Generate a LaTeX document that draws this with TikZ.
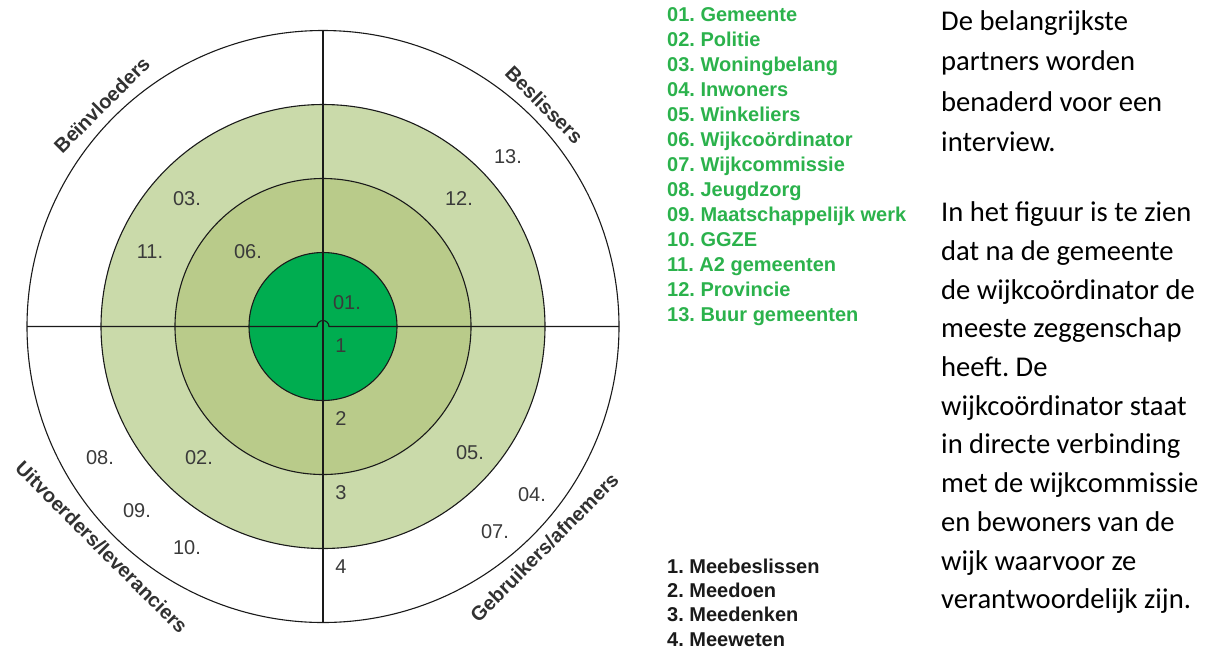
\documentclass[tikz,border=0pt]{standalone}
\usepackage{fontspec}
\setmainfont{Liberation Sans}
\newfontfamily\bodyfont{Carlito}
\usepackage{tikz}
\usetikzlibrary{positioning,calc}
\frenchspacing
\definecolor{ringin}{HTML}{00AD50}
\definecolor{ringmid}{HTML}{B9CB8A}
\definecolor{ringout}{HTML}{CADAAA}
\definecolor{legendgreen}{HTML}{2BB24C}
\definecolor{numgray}{HTML}{3A3A3A}
\definecolor{ink}{HTML}{1A1A1A}
\tikzset{
  ring/.style={draw=ink,line width=1.1pt},
  axisline/.style={draw=ink,line width=1.1pt},
  num/.style={text=numgray,font=\fontsize{20}{24}\selectfont,inner sep=0pt},
  sector/.style={text=ink!90,font=\bfseries\fontsize{20}{24}\selectfont,inner sep=0pt},
  legend/.style={anchor=base west,inner sep=0pt,text=legendgreen,
    font=\bfseries\fontsize{20}{24}\selectfont},
  legendk/.style={legend,text=ink},
  bodytxt/.style={anchor=base west,inner sep=0pt,font=\bodyfont\fontsize{28.6}{38}\selectfont},
}

\begin{document}
\begin{tikzpicture}[x=1pt,y=-1pt]
  \useasboundingbox (0,0) rectangle (1215,649);
  \coordinate (c) at (323,326.5);
  % rings
  \draw[ring,fill=white] (c) circle[radius=296pt];
  \draw[ring,fill=ringout] (c) circle[radius=222pt];
  \draw[ring,fill=ringmid] (c) circle[radius=148pt];
  \draw[ring,fill=ringin] (c) circle[radius=74pt];
  % axes, with a small hop at the centre
  \coordinate (w) at (27,326.5);
  \coordinate (e) at (619,326.5);
  \coordinate (n) at (323,30);
  \coordinate (s) at (323,623);
  \draw[axisline] (n) -- (s);
  \draw[axisline] (w) -- ($(c)+(-6,0)$) arc[start angle=180,end angle=0,radius=6pt] -- (e);
  % quadrant names
  \node[sector,rotate=45] (beinv) at (101.7,104.7) {Beïnvloeders};
  \node[sector,rotate=-45] (besl) at (544.3,104.7) {Beslissers};
  \node[sector,rotate=-45] (uitv) at (101.7,547.3) {Uitvoerders/leveranciers};
  \node[sector,rotate=45] (gebr) at (544.3,547.3) {Gebruikers/afnemers};
  % numbers in the rings
  \foreach \lbl/\px/\py [count=\k] in {01./347/303, 1/341/346, 2/341/419, 3/341/493, 4/341/567,
      05./470/453, 04./532/495, 07./495/532, 13./508/157, 12./459/199,
      03./187/199, 11./150/252, 06./248/252, 08./100/458, 02./199/458,
      09./137/511, 10./187/548}
    \node[num] (nr\k) at (\px,\py) {\lbl};
  % legend: partners
  \foreach \item [count=\k] in {01. Gemeente, 02. Politie, 03. Woningbelang, 04. Inwoners,
      05. Winkeliers, 06. Wijkcoördinator, 07. Wijkcommissie, 08. Jeugdzorg,
      09. Maatschappelijk werk, 10. GGZE, 11. A2 gemeenten, 12. Provincie, 13. Buur gemeenten}
    \node[legend] (lg\k) at (667,{21.7+25*(\k-1)}) {\item};
  % legend: levels
  \foreach \item [count=\k] in {1. Meebeslissen, 2. Meedoen, 3. Meedenken, 4. Meeweten}
    \node[legendk] (lv\k) at (667,{573.5+24.2*(\k-1)}) {\item};
  % text beside the figure
  \foreach \line [count=\k] in {De belangrijkste, partners worden, benaderd voor een, interview.}
    \node[bodytxt] (pa\k) at (941,{30+40.6*(\k-1)}) {\line};
  \foreach \line [count=\k] in {In het figuur is te zien, dat na de gemeente,
      de wijkcoördinator de, meeste zeggenschap, heeft. De, wijkcoördinator staat,
      in directe verbinding, met de wijkcommissie, en bewoners van de,
      wijk waarvoor ze, verantwoordelijk zijn.}
    \node[bodytxt] (pb\k) at (941,{221.7+38.7*(\k-1)}) {\line};
\end{tikzpicture}
\end{document}
